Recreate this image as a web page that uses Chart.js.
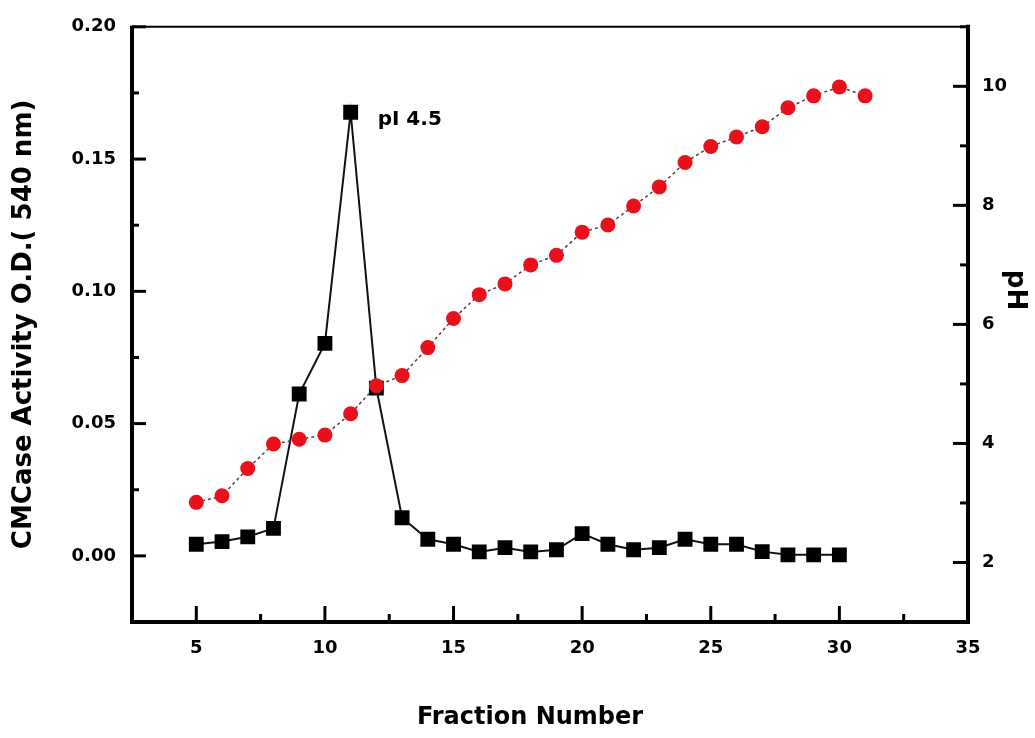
<!DOCTYPE html>
<html>
<head>
<meta charset="utf-8">
<script src="https://cdn.jsdelivr.net/npm/chart.js@4.4.0/dist/chart.umd.min.js"></script>
<style>
  html, body { margin: 0; padding: 0; background: #fff; }
  #wrap { width: 1035px; height: 738px; position: relative; }
</style>
</head>
<body>
<div id="wrap"><canvas id="c" width="1035" height="738"></canvas></div>
<script>
// ---- data ----
const fractions = [5,6,7,8,9,10,11,12,13,14,15,16,17,18,19,20,21,22,23,24,25,26,27,28,29,30];
const cmcase = [0.0044,0.0054,0.0072,0.0104,0.0612,0.0803,0.1677,0.0634,0.0144,0.0063,0.0044,0.0015,0.0031,0.0015,0.0023,0.0084,0.0044,0.0023,0.0031,0.0063,0.0044,0.0044,0.0016,0.0004,0.0004,0.0004];
const phFractions = [5,6,7,8,9,10,11,12,13,14,15,16,17,18,19,20,21,22,23,24,25,26,27,28,29,30,31];
const phValues = [3.01,3.12,3.58,3.99,4.07,4.14,4.50,4.97,5.14,5.61,6.10,6.50,6.68,7.00,7.16,7.55,7.67,7.99,8.31,8.72,8.99,9.15,9.32,9.64,9.84,9.99,9.84];

const xTicks = [5,10,15,20,25,30,35];
const xMinor = [7.5,12.5,17.5,22.5,27.5,32.5];
const leftTicks = [0,0.05,0.10,0.15,0.20];
const leftMinor = [0.025,0.075,0.125,0.175];
const rightTicks = [2,4,6,8,10];
const rightMinor = [3,5,7,9,11];

const xTitle = 'Fraction Number';
const leftTitle = 'CMCase Activity O.D.( 540 nm)';
const rightTitle = 'pH';
const peakLabel = 'pI 4.5';
const peakFraction = 11;
const peakValue = 0.1677;

const FONT = "'DejaVu Sans', 'Liberation Sans', Arial, sans-serif";

const framePlugin = {
  id: 'frame',
  afterDraw(chart) {
    const ctx = chart.ctx;
    const a = chart.chartArea;
    const xs = chart.scales.x, yl = chart.scales.y, yr = chart.scales.y1;
    ctx.save();
    ctx.strokeStyle = '#000';
    ctx.lineCap = 'butt';
    // frame
    ctx.lineWidth = 2;
    ctx.beginPath(); ctx.moveTo(a.left, a.top); ctx.lineTo(a.right, a.top); ctx.stroke();
    ctx.lineWidth = 4;
    ctx.beginPath(); ctx.moveTo(a.left, a.top - 1); ctx.lineTo(a.left, a.bottom + 2); ctx.stroke();
    ctx.beginPath(); ctx.moveTo(a.left - 2, a.bottom); ctx.lineTo(a.right + 2, a.bottom); ctx.stroke();
    ctx.beginPath(); ctx.moveTo(a.right, a.top - 2); ctx.lineTo(a.right, a.bottom + 2); ctx.stroke();
    // inward ticks
    ctx.lineWidth = 3;
    const tick = (x1, y1, x2, y2) => { ctx.beginPath(); ctx.moveTo(x1, y1); ctx.lineTo(x2, y2); ctx.stroke(); };
    xTicks.forEach(v => { const p = xs.getPixelForValue(v); tick(p, a.bottom, p, a.bottom - 16); });
    xMinor.forEach(v => { const p = xs.getPixelForValue(v); tick(p, a.bottom, p, a.bottom - 8); });
    leftTicks.forEach(v => { const p = yl.getPixelForValue(v); tick(a.left, p, a.left + 14, p); });
    leftMinor.forEach(v => { const p = yl.getPixelForValue(v); tick(a.left, p, a.left + 7, p); });
    rightTicks.forEach(v => { const p = yr.getPixelForValue(v); tick(a.right, p, a.right - 15, p); });
    rightMinor.forEach(v => { const p = yr.getPixelForValue(v); tick(a.right, p, a.right - 8, p); });
    ctx.fillStyle = '#000';
    ctx.textBaseline = 'middle';
    // x title
    ctx.font = "bold 24px " + FONT;
    ctx.textAlign = 'center';
    ctx.fillText(xTitle, 530, 718);
    // right title
    ctx.font = "bold 26px " + FONT;
    ctx.save();
    ctx.translate(1015, 290);
    ctx.rotate(Math.PI / 2);
    ctx.fillText(rightTitle, 0, 0);
    ctx.restore();
    // peak annotation
    ctx.font = "bold 20px " + FONT;
    ctx.textAlign = 'left';
    ctx.fillText(peakLabel, xs.getPixelForValue(peakFraction) + 27, yl.getPixelForValue(peakValue) + 8);
    ctx.restore();
  }
};

const tickFont = { family: FONT, size: 18, weight: 'bold' };

new Chart(document.getElementById('c'), {
  type: 'scatter',
  data: {
    datasets: [
      {
        label: 'pH',
        data: phFractions.map((f, i) => ({ x: f, y: phValues[i] })),
        yAxisID: 'y1',
        showLine: true,
        borderColor: '#5a3a4a',
        borderWidth: 1.5,
        borderDash: [3, 3],
        pointStyle: 'circle',
        pointRadius: 7.5,
        pointBackgroundColor: '#e8101a',
        pointBorderColor: '#e8101a',
        pointBorderWidth: 0,
        order: 0
      },
      {
        label: 'CMCase',
        data: fractions.map((f, i) => ({ x: f, y: cmcase[i] })),
        yAxisID: 'y',
        showLine: true,
        borderColor: '#111',
        borderWidth: 2,
        pointStyle: 'rect',
        pointRadius: 10.5,
        pointBackgroundColor: '#000',
        pointBorderColor: '#000',
        pointBorderWidth: 0,
        order: 1
      }
    ]
  },
  options: {
    responsive: false,
    animation: false,
    events: [],
    layout: { padding: { top: 25, left: 0, right: 0, bottom: 0 } },
    plugins: { legend: { display: false }, tooltip: { enabled: false } },
    scales: {
      x: {
        type: 'linear', position: 'bottom', min: 2.5, max: 35,
        afterBuildTicks: s => { s.ticks = xTicks.map(v => ({ value: v })); },
        afterFit: s => { s.height = 116; },
        grid: { display: false, drawTicks: false },
        border: { display: false },
        ticks: { color: '#000', font: tickFont, padding: 16, maxRotation: 0, callback: v => String(v) }
      },
      y: {
        type: 'linear', position: 'left', min: -0.025, max: 0.2,
        afterBuildTicks: s => { s.ticks = leftTicks.map(v => ({ value: v })); },
        afterFit: s => { s.width = 132; },
        grid: { display: false, drawTicks: false },
        border: { display: false },
        ticks: { color: '#000', font: tickFont, padding: 16, callback: v => v.toFixed(2) },
        title: { display: true, text: leftTitle, color: '#000', font: { family: FONT, size: 26, weight: 'bold' }, padding: { top: 9, bottom: 0 } }
      },
      y1: {
        type: 'linear', position: 'right', min: 1, max: 11,
        afterBuildTicks: s => { s.ticks = rightTicks.map(v => ({ value: v })); },
        afterFit: s => { s.width = 67; },
        grid: { display: false, drawTicks: false },
        border: { display: false },
        ticks: { color: '#000', font: tickFont, padding: 14, callback: v => String(v) }
      }
    }
  },
  plugins: [framePlugin]
});
</script>
</body>
</html>
